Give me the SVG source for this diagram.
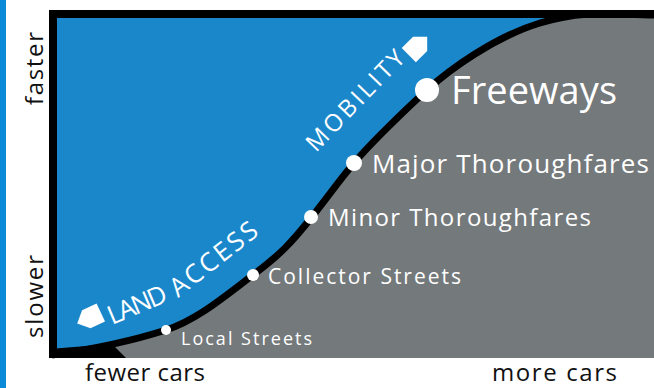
<svg xmlns="http://www.w3.org/2000/svg" width="654" height="388" viewBox="0 0 654 388">
  <style>
    .lbl { font-family: "Open Sans", Lato, "Liberation Sans", sans-serif; fill: #ffffff; }
    .axis { font-family: "Open Sans", Lato, "Liberation Sans", sans-serif; fill: #111111; font-size: 24px; }
    .dot { fill: #ffffff; }
    .arrow { fill: #ffffff; }
  </style>
  <rect x="0" y="0" width="654" height="388" fill="#ffffff"/>
  <rect x="0" y="0" width="6" height="388" fill="#0b8ad7"/>

  <g id="chart-area">
    <rect x="53" y="14" width="601" height="344" fill="#1b87cb"/>
    <path d="M52,355 C100,348 135,340 166,330 S225,296 253,275 S292,242 311,218 S338,182 354,163 S405,110 427,90 S494,37 540,23 S614,15 654,15 L654,358 L52,358 Z" fill="#74797b"/>
    <path d="M49,349 L112,344 L126,358 L49,358 Z" fill="#000"/>
    <rect x="49" y="10" width="605" height="8" fill="#000"/>
    <rect x="49" y="10" width="8" height="348" fill="#000"/>
  </g>

  <g id="connectors">
    <path d="M52,355 C100,348 135,340 166,330 S225,296 253,275 S292,242 311,218 S338,182 354,163 S405,110 427,90 S494,37 540,23 S614,15 654,15" fill="none" stroke="#000" stroke-width="7"/>
  </g>

  <g id="land-access">
    <path class="arrow" d="M-13,-10 L3,-10 L13,0 L3,10 L-13,10 Z" transform="translate(89,318) rotate(155)"/>
    <text class="lbl" font-size="26" transform="translate(112,325) rotate(-23)" textLength="62">LAND</text>
    <text class="lbl" font-size="26" transform="translate(178,298) rotate(-38)" textLength="104">ACCESS</text>
  </g>

  <g id="mobility">
    <text class="lbl" font-size="24" transform="translate(316,153) rotate(-46)" textLength="130">MOBILITY</text>
    <path class="arrow" d="M-13,-10 L3,-10 L13,0 L3,10 L-13,10 Z" transform="translate(418,46) rotate(-45)"/>
  </g>

  <g id="local-streets">
    <circle class="dot" cx="166" cy="330" r="5"/>
    <text class="lbl" x="181" y="345" font-size="18" textLength="131">Local Streets</text>
  </g>
  <g id="collector-streets">
    <circle class="dot" cx="253" cy="275" r="6"/>
    <text class="lbl" x="268" y="284" font-size="21" textLength="193">Collector Streets</text>
  </g>
  <g id="minor-thoroughfares">
    <circle class="dot" cx="311" cy="217" r="7"/>
    <text class="lbl" x="328" y="226" font-size="24" textLength="263">Minor Thoroughfares</text>
  </g>
  <g id="major-thoroughfares">
    <circle class="dot" cx="354" cy="163" r="8"/>
    <text class="lbl" x="372" y="173" font-size="26" textLength="277">Major Thoroughfares</text>
  </g>
  <g id="freeways">
    <circle class="dot" cx="427" cy="90" r="12"/>
    <text class="lbl" x="451" y="104" font-size="38" textLength="166">Freeways</text>
  </g>

  <g id="axis-labels">
    <text class="axis" transform="translate(43,68.5) rotate(-90)" text-anchor="middle" textLength="73">faster</text>
    <text class="axis" transform="translate(43,296.5) rotate(-90)" text-anchor="middle" textLength="83">slower</text>
    <text class="axis" x="85" y="381" textLength="120">fewer cars</text>
    <text class="axis" x="492" y="381" textLength="125">more cars</text>
  </g>
</svg>
